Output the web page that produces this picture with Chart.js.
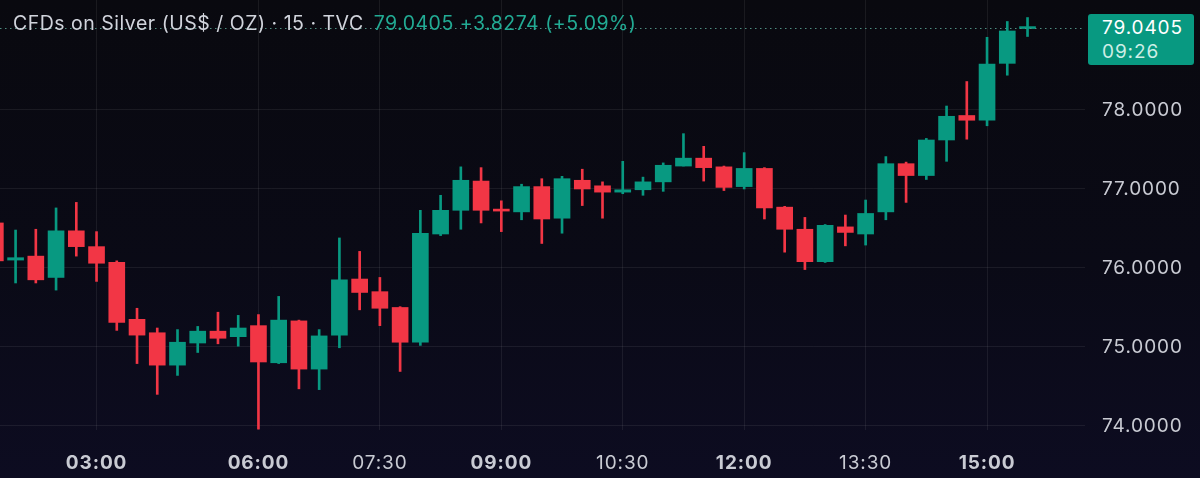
<!DOCTYPE html>
<html>
<head>
<meta charset="utf-8">
<script src="https://cdn.jsdelivr.net/npm/chart.js@4.4.1/dist/chart.umd.min.js"></script>
<style>
    html, body { margin: 0; padding: 0; }
    body {
        width: 1200px; height: 478px; overflow: hidden;
        background: linear-gradient(180deg, #09090f 0%, #0a0a16 55%, #0d0c21 100%);
        font-family: Inter, "Noto Sans", sans-serif;
    }
    #wrap { position: relative; width: 1200px; height: 478px; }
    #header {
        position: absolute; left: 13px; top: 11px;
        font-size: 19.5px; letter-spacing: 0.5px; line-height: 24px; color: #d1d4dc; white-space: pre;
    }
    #header .quote { color: #22ab94; margin-left: 10px; }
    #lastPrice {
        position: absolute; left: 1088px; top: 14px; width: 106px; height: 51px;
        background: #089981; border-radius: 3px; box-sizing: border-box;
        padding: 2px 0 0 14px; font-size: 19px; letter-spacing: 0.9px; line-height: 24px; color: #ffffff;
    }
    #lastPrice .time { color: #cdeee6; }
</style>
</head>
<body>
<div id="wrap">
    <canvas id="candleChart"></canvas>
    <div id="header"></div>
    <div id="lastPrice"></div>
</div>
<script>
const times = [
    '01:45', '02:00', '02:15', '02:30', '02:45', '03:00', '03:15', '03:30', '03:45',
    '04:00', '04:15', '04:30', '04:45',
    '06:00', '06:15', '06:30', '06:45', '07:00', '07:15', '07:30', '07:45',
    '08:00', '08:15', '08:30', '08:45', '09:00', '09:15', '09:30', '09:45',
    '10:00', '10:15', '10:30', '10:45', '11:00', '11:15', '11:30', '11:45',
    '12:00', '12:15', '12:30', '12:45', '13:00', '13:15', '13:30', '13:45',
    '14:00', '14:15', '14:30', '14:45', '15:00', '15:15', '15:30'
];
const openPrices = [
    76.57, 76.10, 76.15, 75.88, 76.47, 76.27, 76.07, 75.35, 75.18,
    74.77, 75.05, 75.20, 75.13,
    75.27, 74.80, 75.33, 74.72, 75.15, 75.86, 75.70, 75.50,
    75.06, 76.43, 76.73, 77.10, 76.73, 76.71, 77.03, 76.63,
    77.11, 77.04, 76.96, 76.99, 77.09, 77.29, 77.39, 77.28,
    77.03, 77.26, 76.77, 76.49, 76.08, 76.52, 76.43, 76.71,
    77.32, 77.17, 77.62, 77.93, 77.87, 78.59, 79.03
];
const highPrices = [
    76.62, 76.48, 76.49, 76.76, 76.83, 76.46, 76.09, 75.49, 75.24,
    75.22, 75.26, 75.44, 75.40,
    75.41, 75.64, 75.34, 75.22, 76.38, 76.21, 75.88, 75.51,
    76.73, 76.92, 77.28, 77.27, 76.85, 77.06, 77.13, 77.16,
    77.25, 77.09, 77.35, 77.15, 77.33, 77.70, 77.54, 77.29,
    77.46, 77.27, 76.78, 76.64, 76.55, 76.67, 76.86, 77.41,
    77.34, 77.64, 78.05, 78.36, 78.92, 79.12, 79.17
];
const lowPrices = [
    76.05, 75.81, 75.81, 75.72, 76.15, 75.83, 75.21, 74.79, 74.40,
    74.64, 74.93, 75.04, 75.01,
    73.96, 74.79, 74.47, 74.46, 74.99, 75.47, 75.27, 74.69,
    75.02, 76.41, 76.49, 76.57, 76.46, 76.61, 76.31, 76.44,
    76.79, 76.63, 76.94, 76.92, 76.97, 77.29, 77.10, 76.98,
    77.00, 76.62, 76.20, 75.98, 76.07, 76.28, 76.29, 76.61,
    76.83, 77.12, 77.35, 77.63, 77.80, 78.44, 78.93
];
const closePrices = [
    76.09, 76.13, 75.85, 76.47, 76.27, 76.06, 75.31, 75.15, 74.77,
    75.06, 75.20, 75.11, 75.24,
    74.81, 75.34, 74.72, 75.14, 75.85, 75.69, 75.49, 75.06,
    76.44, 76.73, 77.11, 76.73, 76.72, 77.03, 76.62, 77.13,
    77.00, 76.96, 76.99, 77.09, 77.30, 77.39, 77.27, 77.02,
    77.26, 76.76, 76.49, 76.08, 76.54, 76.45, 76.69, 77.32,
    77.17, 77.62, 77.92, 77.87, 78.58, 79.00, 79.0405
];
const xTickTimes = ['03:00', '06:00', '07:30', '09:00', '10:30', '12:00', '13:30', '15:00'];
const boldTimes = ['03:00', '06:00', '09:00', '12:00', '15:00'];
const yTicks = [74, 75, 76, 77, 78];
const headerTitle = 'CFDs on Silver (US$ / OZ) · 15 · TVC';
const headerQuote = '79.0405 +3.8274 (+5.09%)';
const lastPriceText = '79.0405';
const lastTimeText = '09:26';

const upColor = '#089981';
const downColor = '#f23645';
const gridColor = 'rgba(255, 255, 255, 0.07)';
const labelColor = '#c9cbd3';

let candleColors = openPrices.map((o, i) => closePrices[i] >= o ? upColor : downColor);

document.getElementById('header').innerHTML =
    headerTitle + '<span class="quote">' + headerQuote + '</span>';
document.getElementById('lastPrice').innerHTML =
    lastPriceText + '<br><span class="time">' + lastTimeText + '</span>';

// wider tracking for the axis labels, like the screenshot
const letterSpacingPlugin = {
    id: 'letterSpacing',
    beforeLayout(chart) { chart.ctx.letterSpacing = '0.9px'; },
    beforeDraw(chart) { chart.ctx.letterSpacing = '0.9px'; }
};

// dotted line at the last price + move the price tag to it
const lastPricePlugin = {
    id: 'lastPriceLine',
    afterDatasetsDraw(chart) {
        let ctx = chart.ctx;
        let yPix = chart.scales.y.getPixelForValue(closePrices[closePrices.length - 1]);
        ctx.save();
        ctx.strokeStyle = '#4f8e82';
        ctx.lineWidth = 1;
        ctx.setLineDash([1.5, 3.5]);
        ctx.beginPath();
        ctx.moveTo(0, Math.round(yPix) + 0.5);
        ctx.lineTo(chart.chartArea.right, Math.round(yPix) + 0.5);
        ctx.stroke();
        ctx.restore();
        document.getElementById('lastPrice').style.top = (yPix - 13.5) + 'px';
    }
};

let area_ctx = document.getElementById('candleChart').getContext('2d');

window.candleChart = new Chart(area_ctx, {
    type: 'bar',
    data: {
        datasets: [
            {
                label: 'body',
                data: times.map((t, i) => ({x: i, y: [openPrices[i], closePrices[i]]})),
                backgroundColor: candleColors,
                barThickness: 16,
                minBarLength: 2,
                grouped: false,
            },
            {
                label: 'wick',
                data: times.map((t, i) => ({x: i, y: [lowPrices[i], highPrices[i]]})),
                backgroundColor: candleColors,
                barThickness: 2,
                grouped: false,
            }
        ]
    },
    options: {
        responsive: true,
        maintainAspectRatio: false,
        animation: false,
        layout: { padding: 0 },
        scales: {
            x: {
                type: 'linear',
                min: 0.23,
                max: 53.84,
                offset: false,
                afterBuildTicks: scale => {
                    scale.ticks = xTickTimes.map(t => ({value: times.indexOf(t)}));
                },
                afterFit: scale => {
                    scale.height = 48;
                    scale.paddingLeft = 0;
                    scale.paddingRight = 0;
                },
                ticks: {
                    autoSkip: false,
                    maxRotation: 0,
                    padding: 22,
                    color: labelColor,
                    font: ctx => ({
                        family: 'Inter',
                        size: 19,
                        weight: (ctx.tick && boldTimes.includes(times[ctx.tick.value])) ? '700' : '400'
                    }),
                    callback: value => times[value]
                },
                grid: { color: gridColor, drawTicks: false, offset: false },
                border: { display: false }
            },
            y: {
                position: 'right',
                min: 73.949,
                max: 79.392,
                afterBuildTicks: scale => {
                    scale.ticks = yTicks.map(v => ({value: v}));
                },
                afterFit: scale => {
                    scale.width = 115;
                    scale.paddingTop = 0;
                    scale.paddingBottom = 0;
                },
                ticks: {
                    padding: 17,
                    color: labelColor,
                    font: { family: 'Inter', size: 19 },
                    callback: value => value.toFixed(4)
                },
                grid: { color: gridColor, drawTicks: false },
                border: { display: false }
            }
        },
        plugins: {
            legend: { display: false },
            title: { display: false },
            tooltip: { enabled: false }
        }
    },
    plugins: [letterSpacingPlugin, lastPricePlugin]
});
</script>
</body>
</html>
